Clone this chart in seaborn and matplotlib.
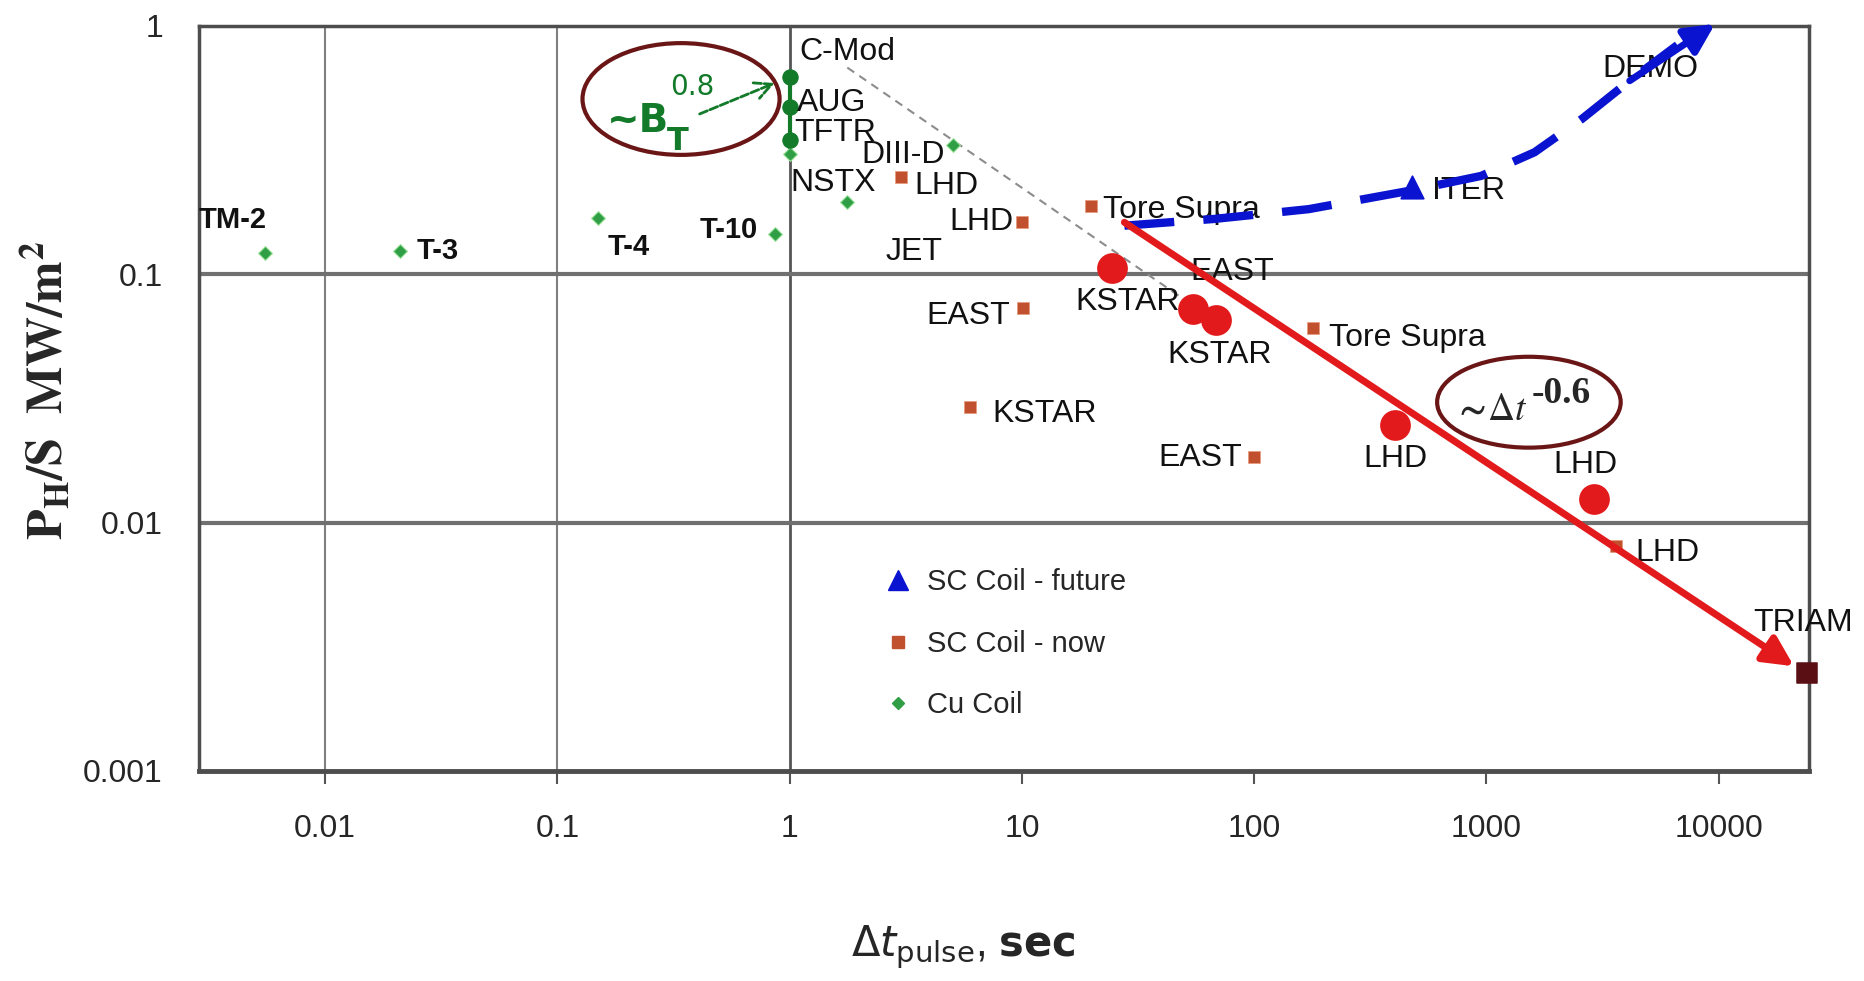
import matplotlib
matplotlib.use("Agg")
import pandas as pd
import matplotlib.pyplot as plt
from matplotlib.patches import Ellipse
from matplotlib.lines import Line2D
import seaborn as sns

# Cu coil machines (small green diamonds)
cu_names = ["TM-2", "T-3", "T-4", "T-10", "NSTX", "DIII-D", ""]
cu_dt = [0.0055, 0.021, 0.149, 0.86, 1.77, 5.05, 1.0]
cu_p = [0.122, 0.124, 0.169, 0.145, 0.195, 0.332, 0.304]

# B_T scaling group at 1 s
bt_names = ["C-Mod", "AUG", "TFTR"]
bt_dt = [1.0, 1.0, 1.0]
bt_p = [0.622, 0.472, 0.347]

# SC coil - now
sc_names = ["LHD", "LHD", "Tore Supra", "EAST", "KSTAR", "Tore Supra", "EAST", "LHD"]
sc_dt = [3.0, 10.0, 19.8, 10.1, 6.0, 180, 100, 3600]
sc_p = [0.246, 0.162, 0.189, 0.0732, 0.0293, 0.0607, 0.0184, 0.00805]

triam_dt = [24000]
triam_p = [0.00247]

# recent long pulse results (red dots)
new_names = ["KSTAR", "", "KSTAR", "LHD", "LHD"]
new_dt = [24.5, 54.7, 68.4, 405, 2900]
new_p = [0.1064, 0.0724, 0.0655, 0.0248, 0.0124]

# SC coil - future
fut_names = ["ITER", "DEMO"]
fut_dt = [479, 10000]
fut_p = [0.2255, 1.0]

# dashed path to DEMO
path_dt = [27.6, 66.8, 171.6, 479, 948, 1610, 2582, 4140, 6640, 9650]
path_p = [0.157, 0.167, 0.183, 0.218, 0.249, 0.310, 0.423, 0.602, 0.838, 1.02]

# ~dt^-0.6 trend arrow and grey reference line
trend_dt = [27.6, 21100]
trend_p = [0.162, 0.00264]
ref_dt = [1.77, 59.4]
ref_p = [0.68, 0.0708]

# labels without own markers
extra_names = ["JET", "EAST"]
extra_dt = [3.43, 80.7]
extra_p = [0.123, 0.102]

x_ticks = [0.01, 0.1, 1, 10, 100, 1000, 10000]
x_ticklabels = ["0.01", "0.1", "1", "10", "100", "1000", "10000"]
y_ticks = [0.001, 0.01, 0.1, 1]
y_ticklabels = ["0.001", "0.01", "0.1", "1"]

GREEN = "#2f9e44"
DKGREEN = "#137a2a"
ORANGE = "#c0502e"
RED = "#e31a1c"
BLUE = "#0a14d0"
MAROON = "#6b1616"

sns.set_style("white")
plt.rcParams["font.family"] = ["Liberation Sans Narrow", "Liberation Sans", "DejaVu Sans"]

fig = plt.figure(figsize=(18.65, 9.81), dpi=100)
ax = fig.add_axes([0.1067, 0.2141, 0.8633, 0.7594])
ax.set_xscale("log")
ax.set_yscale("log")
ax.set_xlim(0.00286, 24500)
ax.set_ylim(0.001, 1)

# grid pieces
for xv in [0.01, 0.1]:
    ax.axvline(xv, color="#808080", lw=1.5, zorder=0)
ax.axvline(1, color="#555555", lw=2, zorder=0)
for yv in [0.1, 0.01]:
    ax.axhline(yv, color="#707070", lw=3, zorder=0)

cu = pd.DataFrame({"name": cu_names, "dt": cu_dt, "p": cu_p})
bt = pd.DataFrame({"name": bt_names, "dt": bt_dt, "p": bt_p})
sc = pd.DataFrame({"name": sc_names, "dt": sc_dt, "p": sc_p})
new = pd.DataFrame({"name": new_names, "dt": new_dt, "p": new_p})
fut = pd.DataFrame({"name": fut_names, "dt": fut_dt, "p": fut_p})

# lines first
ax.plot(ref_dt, ref_p, color="#8c8c8c", lw=1.5, ls=(0, (4, 3)), zorder=1)
ax.plot(bt_dt[:1] + bt_dt[-1:], [bt_p[0], cu_p[-1]], color=DKGREEN, lw=3, zorder=2)
ax.plot(path_dt[:-1], path_p[:-1], color=BLUE, lw=6, ls=(0, (6, 3.5)), zorder=4, clip_on=False)
ax.annotate("", xy=(path_dt[-1], path_p[-1]), xytext=(path_dt[-3], path_p[-3]),
            arrowprops=dict(arrowstyle="-|>", color=BLUE, lw=5, mutation_scale=45,
                            shrinkA=0, shrinkB=0), zorder=5, annotation_clip=False)
ax.annotate("", xy=(trend_dt[1], trend_p[1]), xytext=(trend_dt[0], trend_p[0]),
            arrowprops=dict(arrowstyle="-|>", color=RED, lw=5, mutation_scale=45,
                            shrinkA=0, shrinkB=0), zorder=5)

# markers
sns.scatterplot(data=cu, x="dt", y="p", marker="D", s=50, color=GREEN,
                edgecolor="#9be29b", linewidth=0.8, ax=ax, zorder=3)
sns.scatterplot(data=bt, x="dt", y="p", marker="o", s=120, color=DKGREEN,
                edgecolor=DKGREEN, ax=ax, zorder=3)
sns.scatterplot(data=sc, x="dt", y="p", marker="s", s=80, color=ORANGE,
                edgecolor="#e89a7a", linewidth=0.5, ax=ax, zorder=3)
sns.scatterplot(x=triam_dt, y=triam_p, marker="s", s=190, color="#5a0f14",
                edgecolor="#5a0f14", ax=ax, zorder=6, clip_on=False)
sns.scatterplot(data=new, x="dt", y="p", marker="o", s=420, color=RED,
                edgecolor=RED, ax=ax, zorder=4)
sns.scatterplot(data=fut.iloc[:1], x="dt", y="p", marker="^", s=260, color=BLUE,
                edgecolor=BLUE, ax=ax, zorder=5)

# point labels
lab_font = dict(fontsize=23, color="#111111", va="center")
cu_off = [(-23, 24, "center"), (12, 0, "left"), (22, -21, "center"), (-12, 3, "right"),
          (-10, 14, "center"), (-6, -7, "right"), None]
for (n, x, y), off in zip(zip(cu_names, cu_dt, cu_p), cu_off):
    if off is None:
        continue
    if n.startswith("T-") or n == "TM-2":
        ax.annotate(n, (x, y), xytext=off[:2], textcoords="offset points", ha=off[2],
                    fontweight="bold", fontsize=21, color="#111111", va="center")
    else:
        ax.annotate(n, (x, y), xytext=off[:2], textcoords="offset points", ha=off[2],
                    **lab_font)
bt_off = [(7, 18), (5, 3), (3, 5)]
for n, x, y, off in zip(bt_names, bt_dt, bt_p, bt_off):
    ax.annotate(n, (x, y), xytext=off, textcoords="offset points", ha="left", **lab_font)
sc_off = [(10, -6, "left"), (-6, 0, "right"), (9, -3, "left"), (-9, -6, "right"),
          (16, -5, "left"), (11, -7, "left"), (-9, -1, "right"), (14, -5, "left")]
for n, x, y, off in zip(sc_names, sc_dt, sc_p, sc_off):
    ax.annotate(n, (x, y), xytext=off[:2], textcoords="offset points", ha=off[2], **lab_font)
ax.annotate("TRIAM", (triam_dt[0], triam_p[0]), xytext=(-3, 36), textcoords="offset points",
            ha="center", annotation_clip=False, **lab_font)
new_off = [(11, -25), None, (3, -25), (0, -25), (-6, 25)]
for n, x, y, off in zip(new_names, new_dt, new_p, new_off):
    if off is None:
        continue
    ax.annotate(n, (x, y), xytext=off, textcoords="offset points", ha="center", **lab_font)
ax.annotate("ITER", (fut_dt[0], fut_p[0]), xytext=(14, -3), textcoords="offset points",
            ha="left", zorder=2, **lab_font)
ax.annotate("DEMO", (fut_dt[1], fut_p[1]), xytext=(-49, -31), textcoords="offset points",
            ha="center", zorder=2, **lab_font)
for n, x, y in zip(extra_names, extra_dt, extra_p):
    ax.text(x, y, n, ha="center", **lab_font)

# ~B_T^0.8 annotation
ax.add_patch(Ellipse((0.2994, 0.902), 0.1224, 0.150, transform=ax.transAxes,
                     fill=False, ec=MAROON, lw=3, zorder=6))
bfont = dict(transform=ax.transAxes, color=DKGREEN, fontweight="bold", family="DejaVu Sans")
ax.text(0.2534, 0.872, "~B", fontsize=28, va="center", ha="left", **bfont)
ax.text(0.2905, 0.845, "T", fontsize=23, va="center", ha="left", **bfont)
ax.text(0.2925, 0.918, "0.8", fontsize=20, va="center", ha="left",
        transform=ax.transAxes, color=DKGREEN, family="DejaVu Sans")
ax.annotate("", xy=(0.883, 0.595), xytext=(0.399, 0.438),
            arrowprops=dict(arrowstyle="->", color=DKGREEN, lw=2, mutation_scale=30,
                            ls=(0, (3, 1))))

# ~dt^-0.6 annotation
ax.add_patch(Ellipse((0.826, 0.495), 0.114, 0.122, transform=ax.transAxes,
                     fill=False, ec=MAROON, lw=3, zorder=6))
ax.text(0.779, 0.484, r"$\mathbf{\sim}\!\Delta t$", transform=ax.transAxes, fontsize=27,
        va="center", ha="left", math_fontfamily="stix")
ax.text(0.8275, 0.507, "-0.6", transform=ax.transAxes, fontsize=27, va="center",
        ha="left", family="Liberation Serif", fontweight="bold")

# legend
handles = [
    Line2D([], [], ls="none", marker="^", ms=15, color=BLUE, label="SC Coil - future"),
    Line2D([], [], ls="none", marker="s", ms=8, color=ORANGE, label="SC Coil - now"),
    Line2D([], [], ls="none", marker="D", ms=6, color=GREEN, label="Cu Coil"),
]
ax.legend(handles=handles, loc="upper left", bbox_to_anchor=(0.425, 0.272), frameon=False,
          fontsize=21, labelspacing=1.15, handletextpad=0.5, handlelength=1.0,
          borderaxespad=0, borderpad=0)

# axes styling
ax.set_xticks(x_ticks)
ax.set_xticklabels(x_ticklabels)
ax.set_yticks(y_ticks)
ax.set_yticklabels(y_ticklabels)
ax.minorticks_off()
ax.tick_params(axis="x", direction="out", length=9, width=1.5, color="#555555",
               pad=22, labelsize=23, bottom=True)
ax.tick_params(axis="y", length=0, pad=26, labelsize=23, left=True)
for s in ax.spines.values():
    s.set_color("#4d4d4d")
    s.set_linewidth(2.5)
ax.spines["bottom"].set_linewidth(3.5)

ax.set_ylabel(r"$\mathbf{P_H/S\ \ MW/m^2}$", fontsize=36, math_fontfamily="stix")
ax.yaxis.set_label_coords(-0.078, 0.51)
ax.set_xlabel(r"$\Delta t_{\mathrm{pulse}}$, $\mathbf{sec}$", fontsize=30,
              math_fontfamily="dejavusans")
ax.xaxis.set_label_coords(0.4745, -0.205)

fig.savefig("out.png", dpi=100)
